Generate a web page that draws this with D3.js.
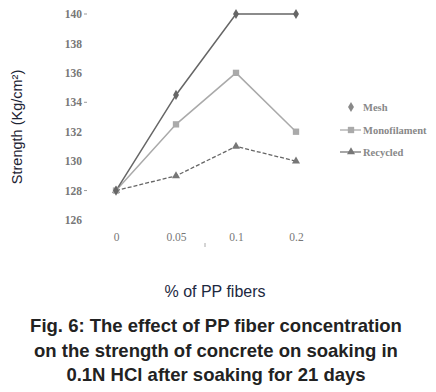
<!DOCTYPE html>
<html><head><meta charset="utf-8">
<script src="https://cdn.jsdelivr.net/npm/d3@7"></script>
<style>body{margin:0;background:#fff}svg{display:block}</style>
</head><body>
<svg id="c" width="436" height="392"></svg>
<script>
const categories = ["0", "0.05", "0.1", "0.2"];
const mesh = [128, 134.5, 140, 140];
const monofilament = [128, 132.5, 136, 132];
const recycled = [128, 129, 131, 130];
const yTicks = [126, 128, 130, 132, 134, 136, 138, 140];
const seriesNames = ["Mesh", "Monofilament", "Recycled"];

const svg = d3.select("#c");
const x = d3.scalePoint().domain(categories).range([116, 296]);
const y = d3.scaleLinear().domain([126, 140]).range([220, 14]);

// y axis labels
const yAx = svg.append("g").attr("transform", "translate(82,0)")
  .call(d3.axisLeft(y).tickValues(yTicks).tickFormat(d3.format("d")).tickSize(0).tickPadding(0));
yAx.select(".domain").remove();
yAx.selectAll("text").attr("font-family", "Liberation Serif, serif").attr("font-size", 11.5).attr("font-weight", "bold").attr("fill", "#777");
svg.selectAll(".dash").data([140, 134, 128]).join("line")
  .attr("x1", 84).attr("x2", 87).attr("y1", d => y(d)).attr("y2", d => y(d))
  .attr("stroke", "#999").attr("stroke-width", 1);

// x axis labels
const xAx = svg.append("g").attr("transform", "translate(0,230)")
  .call(d3.axisBottom(x).tickSize(0).tickPadding(3));
xAx.select(".domain").remove();
xAx.selectAll("text").attr("font-family", "Liberation Serif, serif").attr("font-size", 11.5).attr("fill", "#777");
svg.append("line").attr("x1", 205).attr("x2", 205).attr("y1", 243).attr("y2", 247).attr("stroke", "#aaa");

const line = d3.line().x((d, i) => x(categories[i])).y(d => y(d));

svg.append("path").datum(recycled).attr("d", line).attr("fill", "none")
  .attr("stroke", "#666").attr("stroke-width", 1.3).attr("stroke-dasharray", "4,2");
svg.append("path").datum(monofilament).attr("d", line).attr("fill", "none")
  .attr("stroke", "#aaa").attr("stroke-width", 1.5);
svg.append("path").datum(mesh).attr("d", line).attr("fill", "none")
  .attr("stroke", "#666").attr("stroke-width", 1.5);

const diamond = d3.symbol().type(d3.symbolDiamond).size(30);
const square = d3.symbol().type(d3.symbolSquare).size(40);
const tri = d3.symbol().type(d3.symbolTriangle).size(28);

svg.selectAll(".rm").data(recycled).join("path")
  .attr("transform", (d, i) => `translate(${x(categories[i])},${y(d)})`).attr("d", tri).attr("fill", "#777");
svg.selectAll(".mm").data(monofilament).join("path")
  .attr("transform", (d, i) => `translate(${x(categories[i])},${y(d)})`).attr("d", square).attr("fill", "#aaa");
svg.selectAll(".me").data(mesh).join("path")
  .attr("transform", (d, i) => `translate(${x(categories[i])},${y(d)})`).attr("d", diamond).attr("fill", "#666");

// legend
const lg = svg.append("g");
const ly = [107, 130, 152];
lg.append("path").attr("transform", `translate(351,${ly[0]})`).attr("d", diamond).attr("fill", "#888");
lg.append("line").attr("x1", 340).attr("x2", 361).attr("y1", ly[1]).attr("y2", ly[1]).attr("stroke", "#aaa").attr("stroke-width", 1.3);
lg.append("path").attr("transform", `translate(351,${ly[1]})`).attr("d", square).attr("fill", "#aaa");
lg.append("line").attr("x1", 340).attr("x2", 361).attr("y1", ly[2]).attr("y2", ly[2]).attr("stroke", "#777").attr("stroke-width", 1.3);
lg.append("path").attr("transform", `translate(351,${ly[2]})`).attr("d", tri).attr("fill", "#777");
lg.selectAll("text").data(seriesNames).join("text")
  .attr("x", 363).attr("y", (d, i) => ly[i] + 3.5).text(d => d)
  .attr("font-family", "Liberation Serif, serif").attr("font-size", 10.5).attr("font-weight", "bold").attr("fill", "#888");

// axis titles
svg.append("text").attr("transform", "translate(22,127) rotate(-90)").attr("text-anchor", "middle")
  .attr("font-family", "Liberation Sans, Arial, sans-serif").attr("font-size", 14.5).attr("fill", "#1c2333")
  .text("Strength (Kg/cm²)");
svg.append("text").attr("x", 215).attr("y", 297).attr("text-anchor", "middle")
  .attr("font-family", "Liberation Sans, Arial, sans-serif").attr("font-size", 16).attr("fill", "#1c2840")
  .text("% of PP fibers");

// caption
const cap = ["Fig. 6: The effect of PP fiber concentration", "on the strength of concrete on soaking in", "0.1N HCl after soaking for 21 days"];
svg.selectAll(".cap").data(cap).join("text").attr("x", 216).attr("y", (d, i) => 332 + i * 24.5)
  .attr("text-anchor", "middle").attr("font-family", "Liberation Sans, Arial, sans-serif")
  .attr("font-size", 18.5).attr("font-weight", "bold").attr("fill", "#222").text(d => d);
</script>
</body></html>
